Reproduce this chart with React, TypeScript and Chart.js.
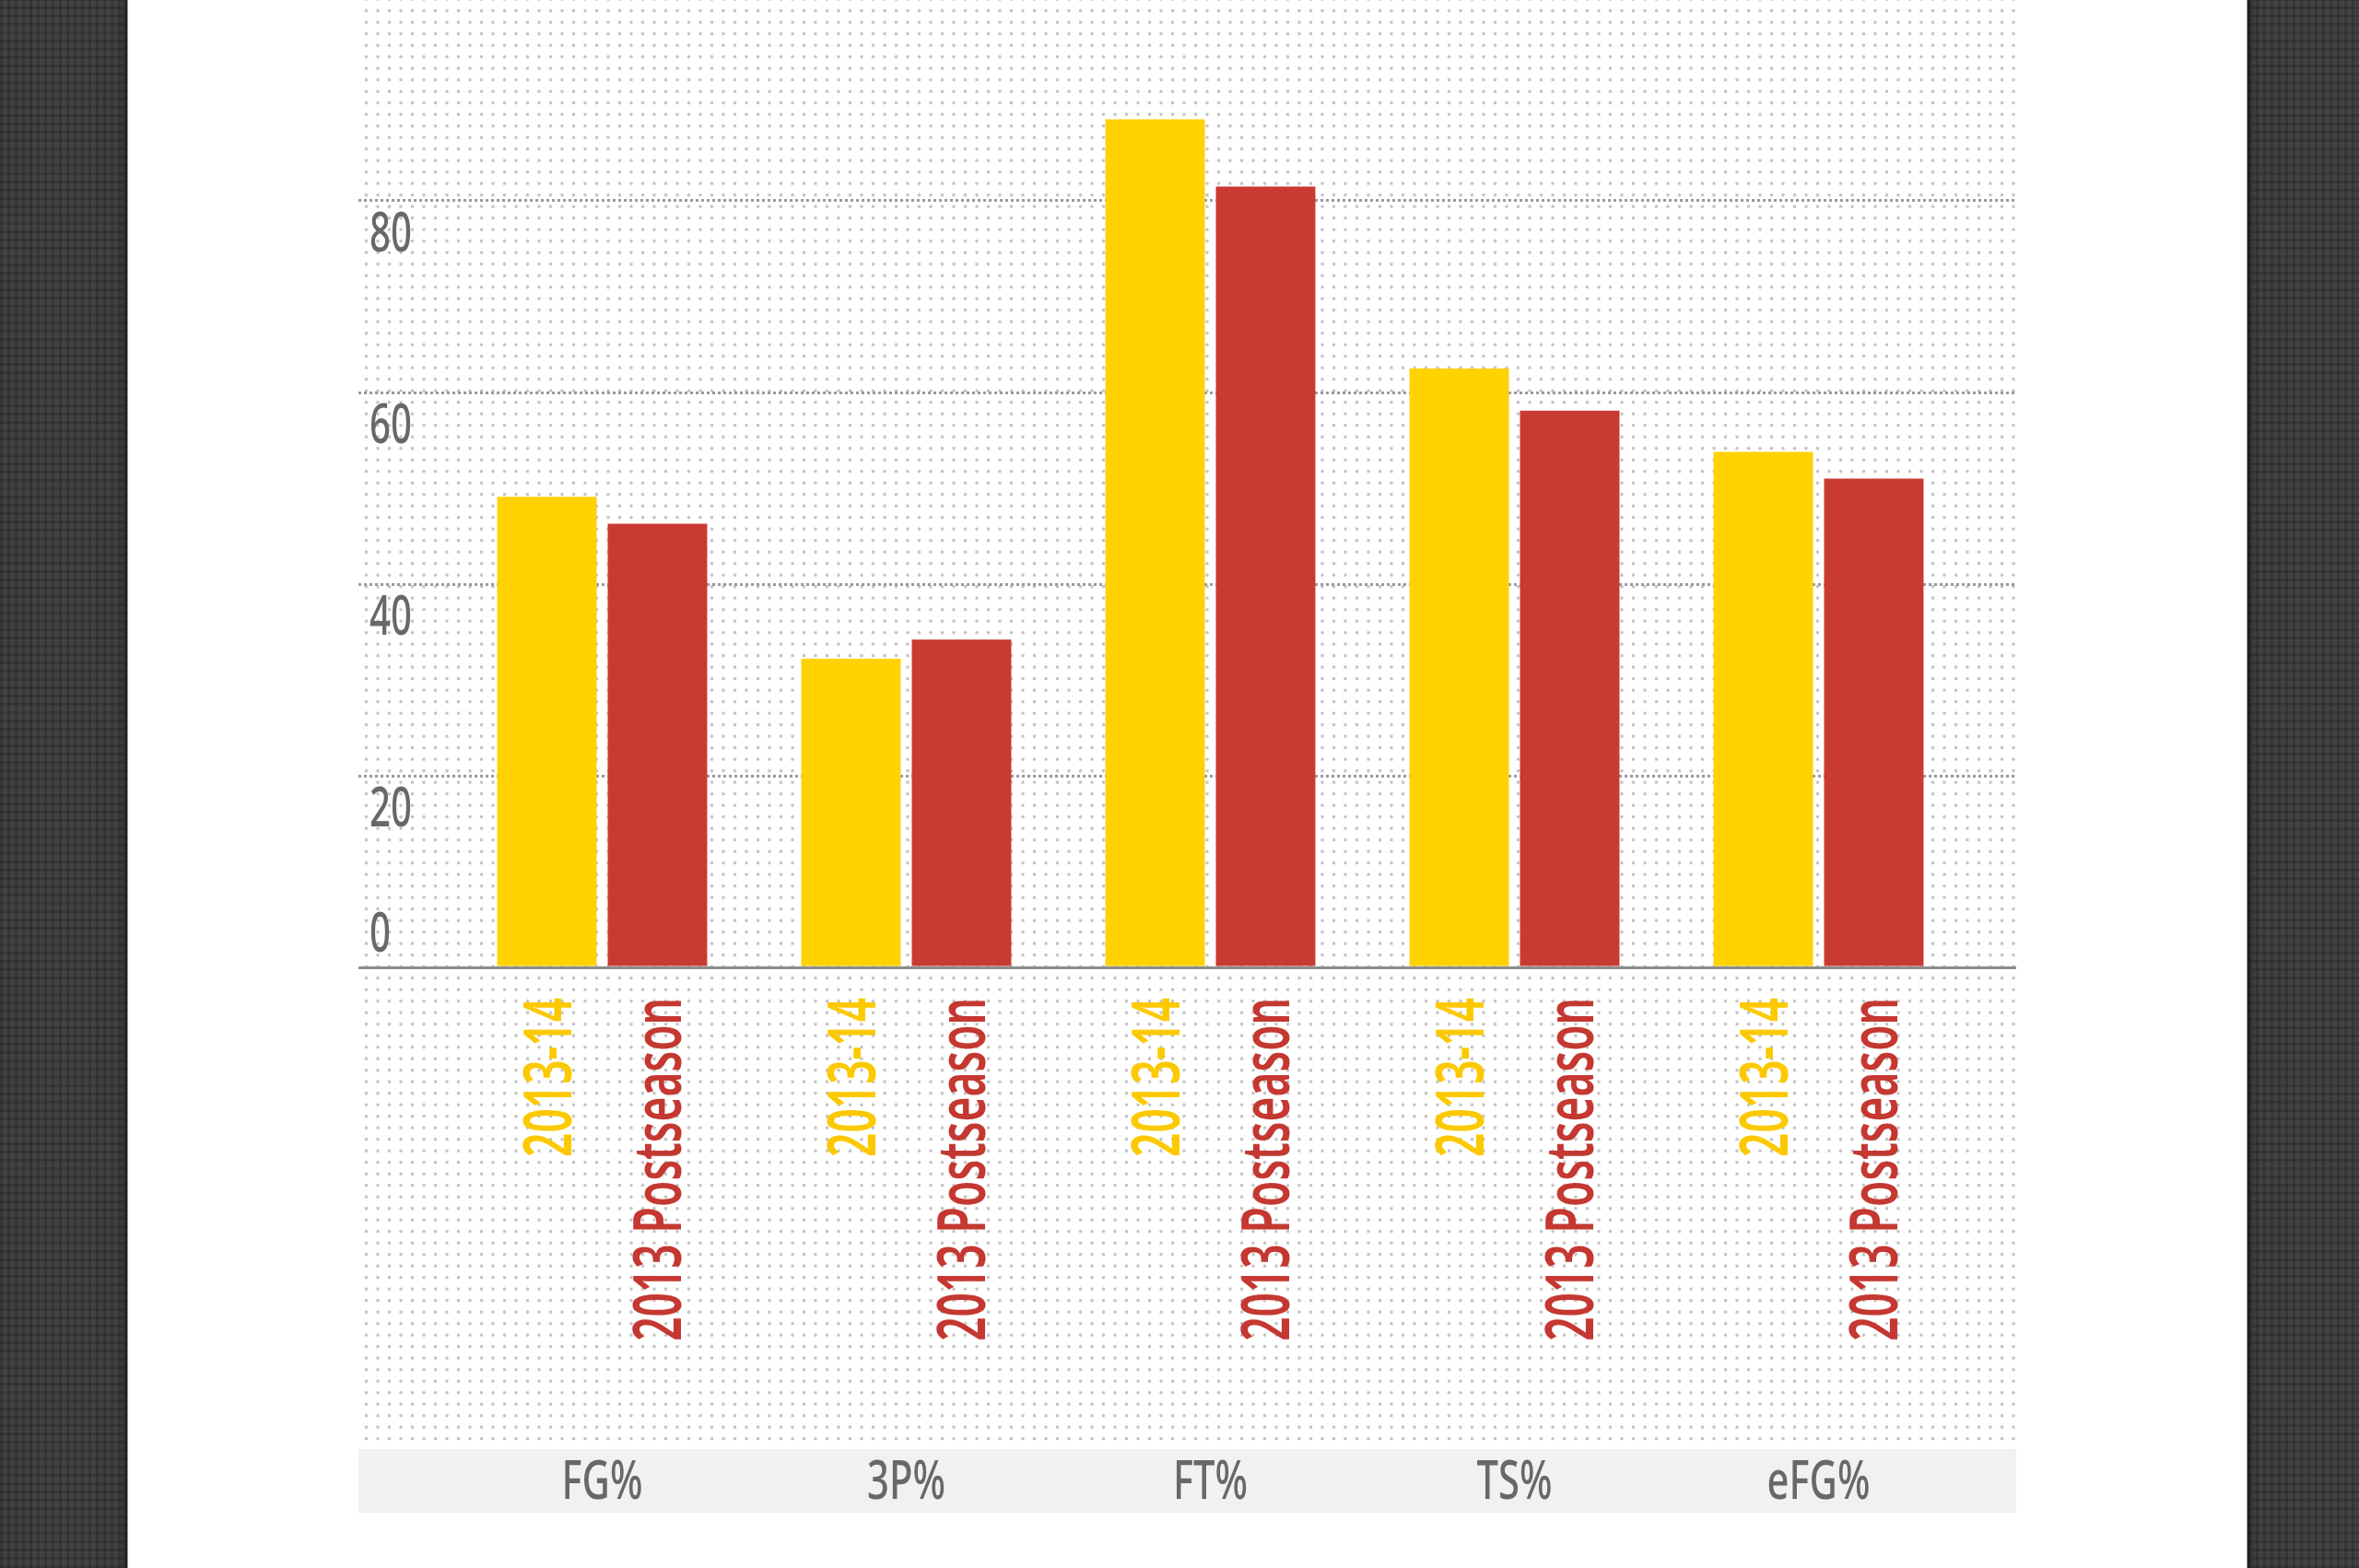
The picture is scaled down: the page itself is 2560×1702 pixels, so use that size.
import React, { useEffect, useRef } from 'react';
import { Chart, registerables } from 'chart.js';

Chart.register(...registerables);

// data
const categories = ['FG%', '3P%', 'FT%', 'TS%', 'eFG%'];
const seasonLabel = '2013-14';
const postseasonLabel = '2013 Postseason';
const season = [49.1, 32.2, 88.5, 62.5, 53.8];
const postseason = [46.3, 34.2, 81.5, 58.1, 51.0];
const yTicks = [0, 20, 40, 60, 80];

const YELLOW = '#ffd200';
const RED = '#c93a32';
const YELLOW_TEXT = '#fcc900';
const RED_TEXT = '#c43831';
const GREY_TEXT = '#686868';
const FONT = '"Noto Sans", sans-serif';

// condensed text: squeeze along the text direction
const narrowText = (ctx: CanvasRenderingContext2D, text: string, x: number, y: number, sx: number) => {
  ctx.save();
  ctx.translate(x, y);
  ctx.scale(sx, 1);
  ctx.fillText(text, 0, 0);
  ctx.restore();
};

const labelPlugin = {
  id: 'narrowLabels',
  afterDraw(chart: any) {
    const { ctx } = chart;
    const xs = chart.scales.x;
    const ys = chart.scales.y;
    const axisY = ys.getPixelForValue(0);
    ctx.save();

    // y tick labels, sitting under their grid lines (0 sits above the axis)
    ctx.fillStyle = GREY_TEXT;
    ctx.font = `500 59px ${FONT}`;
    ctx.textAlign = 'left';
    ctx.textBaseline = 'alphabetic';
    yTicks.forEach((v) => {
      const py = ys.getPixelForValue(v);
      const base = v === 0 ? py - 17 : py + 55;
      narrowText(ctx, String(v), 12, base, 0.68);
    });

    // rotated series labels under each bar
    ctx.font = `600 72px ${FONT}`;
    ctx.textAlign = 'right';
    const names = [seasonLabel, postseasonLabel];
    const colors = [YELLOW_TEXT, RED_TEXT];
    names.forEach((name, d) => {
      ctx.fillStyle = colors[d];
      chart.getDatasetMeta(d).data.forEach((bar: any) => {
        ctx.save();
        ctx.translate(bar.x, axisY + 33);
        ctx.rotate(-Math.PI / 2);
        ctx.scale(0.64, 1);
        ctx.fillText(name, 0, 26);
        ctx.restore();
      });
    });

    // category names in the grey band
    ctx.fillStyle = GREY_TEXT;
    ctx.font = `500 58px ${FONT}`;
    ctx.textAlign = 'center';
    categories.forEach((c, i) => {
      narrowText(ctx, c, xs.getPixelForValue(i), 1627, 0.72);
    });
    ctx.restore();
  },
};

const BarChart: React.FC = () => {
  const chartRef = useRef<HTMLCanvasElement>(null);

  useEffect(() => {
    if (!chartRef.current) return;
    const chart = new Chart(chartRef.current, {
      type: 'bar',
      data: {
        datasets: [
          {
            label: seasonLabel,
            data: season.map((v, i) => ({ x: i, y: v })),
            backgroundColor: YELLOW,
            borderWidth: 0,
            categoryPercentage: 0.727,
            barPercentage: 0.9,
          },
          {
            label: postseasonLabel,
            data: postseason.map((v, i) => ({ x: i, y: v })),
            backgroundColor: RED,
            borderWidth: 0,
            categoryPercentage: 0.727,
            barPercentage: 0.9,
          },
        ],
      },
      options: {
        animation: false,
        responsive: true,
        maintainAspectRatio: false,
        layout: { padding: { top: 10, bottom: 592, left: 0, right: 0 } },
        plugins: {
          legend: { display: false },
          tooltip: { enabled: false },
        },
        scales: {
          x: {
            type: 'linear',
            offset: false,
            min: -0.8015,
            max: 4.65,
            // one tick per category so bar widths come from the category spacing
            afterBuildTicks: (scale: any) => {
              scale.ticks = categories.map((_, i) => ({ value: i }));
            },
            ticks: { display: false },
            grid: { display: false, drawTicks: false, offset: false },
            border: { display: true, color: '#8c8c8c', width: 3 },
          },
          y: {
            min: 0,
            max: 100,
            ticks: { display: false, stepSize: 20 },
            grid: {
              drawTicks: false,
              lineWidth: 3,
              color: (c: any) =>
                c.tick && c.tick.value > 0 && c.tick.value < 100 ? '#9a9a9a' : 'rgba(0,0,0,0)',
            },
            border: { display: false, dash: [3, 3] },
          },
        },
      },
      plugins: [labelPlugin],
    });
    return () => chart.destroy();
  }, []);

  return <canvas ref={chartRef}></canvas>;
};

const App: React.FC = () => {
  return (
    <div
      style={{
        position: 'absolute',
        left: 0,
        top: 0,
        width: 2560,
        height: 1702,
        overflow: 'hidden',
        backgroundColor: '#3a3a3a',
        backgroundImage:
          'repeating-linear-gradient(90deg, rgba(0,0,0,0.12) 0 3px, rgba(255,255,255,0.02) 3px 8px), repeating-linear-gradient(0deg, rgba(0,0,0,0.1) 0 3px, rgba(255,255,255,0.02) 3px 9px)',
      }}
    >
      <div
        style={{
          position: 'absolute',
          left: 139,
          top: 0,
          width: 2299,
          height: 1702,
          background: '#ffffff',
          boxShadow: '0 0 0 1px #9a9a9a, 0 0 0 3px #1e1e1e, 0 0 8px 3px rgba(0,0,0,0.5)',
        }}
      />
      <div
        style={{
          position: 'absolute',
          left: 389,
          top: 0,
          width: 1799,
          height: 1568,
          backgroundImage: 'radial-gradient(circle, #c2c2c2 1.6px, rgba(255,255,255,0) 2.1px)',
          backgroundSize: '12.5px 12.5px',
          backgroundPosition: '2.25px 5.45px',
        }}
      />
      <div
        style={{
          position: 'absolute',
          left: 389,
          top: 1573,
          width: 1799,
          height: 69,
          background: '#f1f1f1',
        }}
      />
      <div style={{ position: 'absolute', left: 389, top: 0, width: 1799, height: 1642 }}>
        <BarChart />
      </div>
    </div>
  );
};

export default App;
